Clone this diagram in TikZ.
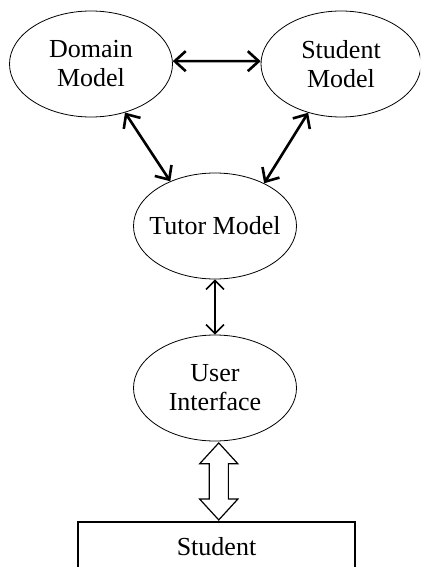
\documentclass[tikz,border=0pt]{standalone}
\usepackage{fontspec}
\setmainfont{Liberation Serif}
\usetikzlibrary{shapes.geometric,shapes.arrows,arrows.meta,calc}

\begin{document}
\begin{tikzpicture}
[x=1pt, y=-1pt,
 modelDecorate/.style={shape=ellipse, draw, line width=0.8pt, minimum width=163pt, minimum height=106pt, inner sep=0pt, align=center, font=\fontsize{26}{29}\selectfont},
 boldDecorate/.style={{Straight Barb[length=11pt,width=20pt]}-{Straight Barb[length=11pt,width=20pt]}, line width=2.6pt},
 thinDecorate/.style={{Straight Barb[length=9pt,width=18pt]}-{Straight Barb[length=9pt,width=18pt]}, line width=1.5pt},
 hollowDecorate/.style={shape=double arrow, draw, line width=1.2pt, rotate=90, inner xsep=0pt, inner ysep=9pt, minimum height=77pt, double arrow head extend=9.5pt, double arrow tip angle=85},
 boxDecorate/.style={shape=rectangle, draw, line width=1.1pt, minimum width=277pt, minimum height=49pt, inner sep=0pt, font=\fontsize{26}{29}\selectfont}]

 \useasboundingbox (0,0) rectangle (420,567);
 \clip (0,0) rectangle (420,567);

 \node (dm) at (91,64) [modelDecorate] {Domain\\Model};
 \node (sm) at (341,64) [modelDecorate, minimum width=160pt] {Student\\Model};
 \node (tm) at (215,226) [modelDecorate, inner xsep=-15pt] {Tutor Model};
 \node (ui) at (215,388) [modelDecorate] {User\\Interface};
 \node (st) at (216.5,546.5) [boxDecorate] {Student};

 \node (ha) at ($(ui.south)!0.5!(st.north)+(3,0)$) [hollowDecorate] {};

 \draw[boldDecorate] (dm.2) -- (sm.178);
 \draw[boldDecorate] (dm.-55) -- (tm.135);
 \draw[boldDecorate] (sm.236) -- (tm.41);
 \draw[thinDecorate] (tm.south) -- (ui.north);
\end{tikzpicture}
\end{document}
